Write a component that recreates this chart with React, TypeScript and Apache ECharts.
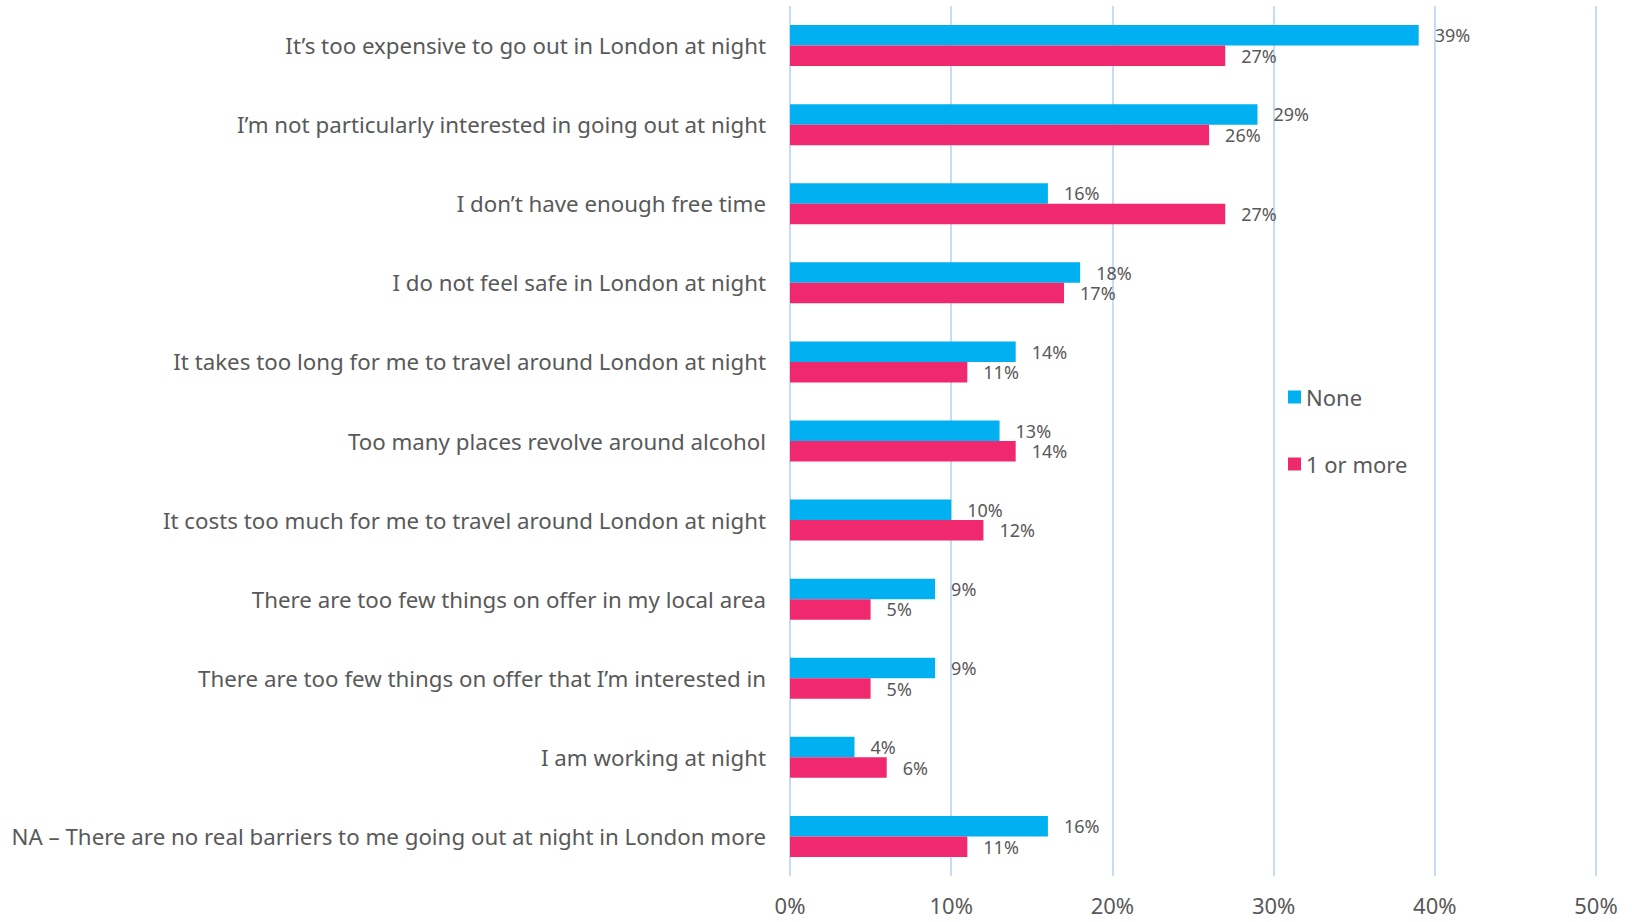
import React, { useEffect, useRef } from "react";
import * as echarts from "echarts";

const categories = [
  "It’s too expensive to go out in London at night",
  "I’m not particularly interested in going out at night",
  "I don’t have enough free time",
  "I do not feel safe in London at night",
  "It takes too long for me to travel around London at night",
  "Too many places revolve around alcohol",
  "It costs too much for me to travel around London at night",
  "There are too few things on offer in my local area",
  "There are too few things on offer that I’m interested in",
  "I am working at night",
  "NA – There are no real barriers to me going out at night in London more",
];
const noneValues = [39, 29, 16, 18, 14, 13, 10, 9, 9, 4, 16];
const oneOrMoreValues = [27, 26, 27, 17, 11, 14, 12, 5, 5, 6, 11];
const seriesNames = ["None", "1 or more"];
const xTicks = { min: 0, max: 50, interval: 10 };

const FONT = "'Noto Sans', sans-serif";
const GRAY = "#595959";

export default function App() {
  const ref = useRef<HTMLDivElement>(null);
  useEffect(() => {
    if (!ref.current) return;
    const chart = echarts.init(ref.current, null, { renderer: "svg" });
    const labelOpt = {
      show: true,
      position: "right",
      distance: 16,
      formatter: "{c}%",
      fontSize: 18,
      lineHeight: 17,
      color: GRAY,
      fontFamily: FONT,
    };
    chart.setOption({
      animation: false,
      grid: { left: 790, right: 36, top: 6, bottom: 46, containLabel: false },
      legend: {
        orient: "vertical",
        left: 1283,
        top: 381,
        itemWidth: 13,
        itemHeight: 13,
        itemGap: 45,
        icon: "rect",
        data: seriesNames,
        textStyle: { fontSize: 22, color: GRAY, fontFamily: FONT, lineHeight: 22 },
      },
      xAxis: {
        type: "value",
        min: xTicks.min,
        max: xTicks.max,
        interval: xTicks.interval,
        axisLine: { show: false },
        axisTick: { show: false },
        axisLabel: {
          formatter: "{value}%",
          fontSize: 22,
          color: GRAY,
          fontFamily: FONT,
          margin: 18,
        },
        splitLine: { show: true, lineStyle: { color: "#C5DBF6", width: 2 } },
      },
      yAxis: {
        type: "category",
        inverse: true,
        data: categories,
        axisLine: { show: false },
        axisTick: { show: false },
        axisLabel: {
          fontSize: 22.3,
          color: GRAY,
          fontFamily: FONT,
          margin: 24,
          padding: [0, 0, 4, 0],
        },
      },
      series: [
        {
          name: seriesNames[0],
          type: "bar",
          data: noneValues,
          barWidth: 20.5,
          barGap: "0%",
          itemStyle: { color: "#00B0F0" },
          label: labelOpt,
        },
        {
          name: seriesNames[1],
          type: "bar",
          data: oneOrMoreValues,
          barWidth: 20.5,
          barGap: "0%",
          itemStyle: { color: "#F0286E" },
          label: labelOpt,
        },
      ],
    });
    return () => chart.dispose();
  }, []);
  return (
    <div
      ref={ref}
      style={{ position: "absolute", left: 0, top: 0, width: 1632, height: 922, background: "#fff" }}
    />
  );
}
